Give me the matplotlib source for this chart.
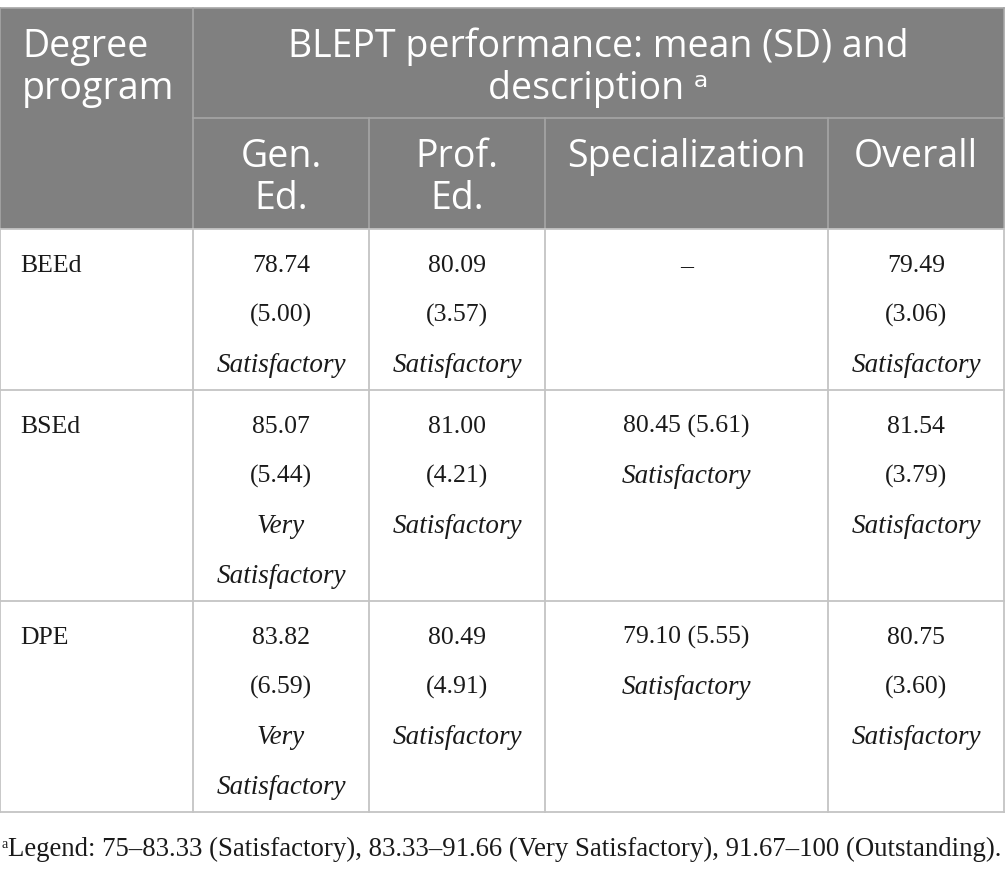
import matplotlib
matplotlib.use("Agg")
import matplotlib.pyplot as plt

# ---- data ----
programs = ["BEEd", "BSEd", "DPE"]
categories = ["Gen.\nEd.", "Prof.\nEd.", "Specialization", "Overall"]
means = [
    [78.74, 80.09, None, 79.49],
    [85.07, 81.00, 80.45, 81.54],
    [83.82, 80.49, 79.10, 80.75],
]
sds = [
    [5.00, 3.57, None, 3.06],
    [5.44, 4.21, 5.61, 3.79],
    [6.59, 4.91, 5.55, 3.60],
]
descs = [
    ["Satisfactory", "Satisfactory", None, "Satisfactory"],
    ["Very Satisfactory", "Satisfactory", "Satisfactory", "Satisfactory"],
    ["Very Satisfactory", "Satisfactory", "Satisfactory", "Satisfactory"],
]
first_header = "Degree\nprogram"
group_header = "BLEPT performance: mean (SD) and\ndescription ᵃ"
footnote = "Legend: 75–83.33 (Satisfactory), 83.33–91.66 (Very Satisfactory), 91.67–100 (Outstanding)."

# ---- layout (pixels) ----
W, H = 1005, 869
col_x = [0, 193, 369, 545, 828, 1004]
wide_cols = {2}
top = 8
head_mid = 118
head_bot = 229
row_y = [229, 390, 601, 812]

HEAD_BG = "#808080"
HEAD_LINE = "#a6a6a6"
GRID = "#c4c4c4"
TXT = "#1a1a1a"
SANS = ["Open Sans", "DejaVu Sans"]
SERIF = ["Liberation Serif", "DejaVu Serif"]
HFS = 27
BFS = 18.5
IFS = 19.5
LS = 50    # body line spacing px
HLS = 42   # header line spacing px

fig = plt.figure(figsize=(W / 100, H / 100), dpi=100)
ax = fig.add_axes([0, 0, 1, 1])
ax.set_xlim(0, W)
ax.set_ylim(H, 0)
ax.axis("off")


def lines_at(x, y, text, ha, **kw):
    for k, line in enumerate(text.split("\n")):
        ax.text(x, y + k * HLS, line, ha=ha, va="baseline", **kw)


# header background
ax.fill_between([col_x[0], col_x[-1]], top, head_bot, color=HEAD_BG, lw=0)

# header lines
ax.plot([col_x[0], col_x[-1]], [top, top], color=HEAD_LINE, lw=1.2)
ax.plot([col_x[1], col_x[1]], [top, head_bot], color=HEAD_LINE, lw=1.2)
ax.plot([col_x[1], col_x[-1]], [head_mid, head_mid], color=HEAD_LINE, lw=1.2)
for x in col_x[2:-1]:
    ax.plot([x, x], [head_mid, head_bot], color=HEAD_LINE, lw=1.2)
ax.plot([col_x[-1], col_x[-1]], [top, head_bot], color=HEAD_LINE, lw=1.2)
ax.plot([col_x[0], col_x[0]], [top, head_bot], color=HEAD_LINE, lw=1.2)

# header text
lines_at(22, 57, first_header, "left", color="white", fontsize=HFS, family=SANS)
lines_at((col_x[1] + col_x[-1]) / 2, 57, group_header, "center",
         color="white", fontsize=HFS, family=SANS)
for j, cat in enumerate(categories):
    cx = (col_x[j + 1] + col_x[j + 2]) / 2
    lines_at(cx, 167, cat, "center", color="white", fontsize=HFS, family=SANS)

# body grid
for x in col_x:
    ax.plot([x, x], [head_bot, row_y[-1]], color=GRID, lw=1.3)
for y in row_y:
    ax.plot([col_x[0], col_x[-1]], [y, y], color=GRID, lw=1.3)

# body text
for i, prog in enumerate(programs):
    y0 = row_y[i] + 43
    ax.text(20, y0, prog, ha="left", va="baseline", fontsize=BFS,
            family=SERIF, color=TXT)
    for j in range(len(categories)):
        cx = (col_x[j + 1] + col_x[j + 2]) / 2
        m, s, d = means[i][j], sds[i][j], descs[i][j]
        if m is None:
            ax.text(cx, y0, "–", ha="center", va="baseline", fontsize=BFS,
                    family=SERIF, color=TXT)
            continue
        lines = []
        if j in wide_cols:
            lines.append((f"{m:.2f} ({s:.2f})", "normal"))
            lines.append((d, "italic"))
        else:
            lines.append((f"{m:.2f}", "normal"))
            lines.append((f"({s:.2f})", "normal"))
            for w in d.split(" "):
                lines.append((w, "italic"))
        for k, (t, st) in enumerate(lines):
            ax.text(cx, y0 + k * LS, t, ha="center", va="baseline",
                    fontsize=IFS if st == "italic" else BFS,
                    family=SERIF, style=st, color=TXT)

# footnote
ax.text(1, 848, "a", ha="left", va="baseline", fontsize=10, family=SERIF,
        color=TXT)
ft = ax.text(8, 856, footnote, ha="left", va="baseline", fontsize=19,
             family=SERIF, color=TXT)
fig.canvas.draw()
bb = ft.get_window_extent()
ft.set_fontsize(19 * (992 / bb.width))

fig.savefig("out.png", dpi=100)
